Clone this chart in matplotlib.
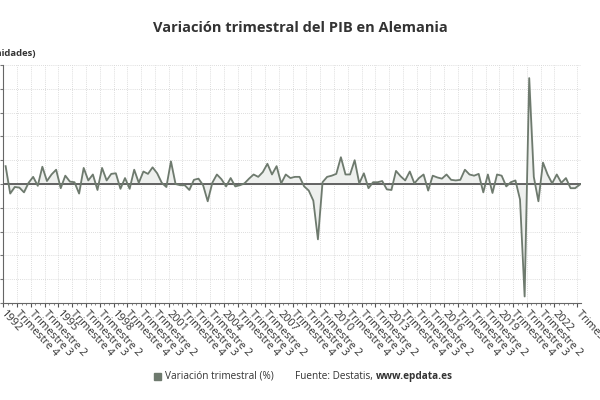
import matplotlib
matplotlib.use("Agg")
import matplotlib.pyplot as plt
import numpy as np

plt.rcParams['font.family'] = ['Open Sans', 'DejaVu Sans']

# variacion trimestral del PIB, 1992 T1 .. 2023 T2 (126 trimestres)
variacion = [
    1.5, -0.8, -0.25, -0.3, -0.7, 0.1, 0.6, -0.15, 1.45, 0.25,
    0.8, 1.2, -0.35, 0.7, 0.2, 0.15, -0.8, 1.35, 0.3, 0.8,
    -0.5, 1.35, 0.3, 0.85, 0.9, -0.4, 0.5, -0.4, 1.2, 0.1,
    1.05, 0.85, 1.4, 0.9, 0.1, -0.25, 1.9, 0.0, -0.1, -0.1,
    -0.5, 0.35, 0.45, -0.1, -1.45, 0.1, 0.8, 0.4, -0.2, 0.5,
    -0.2, -0.1, 0.05, 0.45, 0.8, 0.6, 1.0, 1.7, 0.8, 1.5,
    0.05, 0.8, 0.5, 0.6, 0.6, -0.2, -0.55, -1.4, -4.65, 0.15,
    0.6, 0.7, 0.85, 2.25, 0.8, 0.8, 2.0, 0.05, 0.9, -0.35,
    0.15, 0.15, 0.25, -0.45, -0.5, 1.1, 0.65, 0.3, 1.05, 0.05,
    0.5, 0.8, -0.55, 0.7, 0.55, 0.45, 0.8, 0.35, 0.3, 0.35,
    1.2, 0.8, 0.7, 0.85, -0.7, 0.8, -0.75, 0.8, 0.7, -0.2,
    0.15, 0.3, -1.3, -9.45, 8.9, 0.6, -1.45, 1.8, 0.8, 0.05,
    0.8, 0.1, 0.5, -0.35, -0.35, -0.05,
]

# etiquetas del eje x (una cada tres trimestres, mas la ultima)
tick_labels = [
    "1992", "Trimestre 4", "Trimestre 3", "Trimestre 2",
    "1995", "Trimestre 4", "Trimestre 3", "Trimestre 2",
    "1998", "Trimestre 4", "Trimestre 3", "Trimestre 2",
    "2001", "Trimestre 4", "Trimestre 3", "Trimestre 2",
    "2004", "Trimestre 4", "Trimestre 3", "Trimestre 2",
    "2007", "Trimestre 4", "Trimestre 3", "Trimestre 2",
    "2010", "Trimestre 4", "Trimestre 3", "Trimestre 2",
    "2013", "Trimestre 4", "Trimestre 3", "Trimestre 2",
    "2016", "Trimestre 4", "Trimestre 3", "Trimestre 2",
    "2019", "Trimestre 4", "Trimestre 3", "Trimestre 2",
    "2022", "Trimestre 2",
]
tick_idx = list(range(0, 121, 3)) + [125]

line_color = '#6e7a6e'
text_color = '#333333'

fig = plt.figure(figsize=(6, 4), dpi=100)
ax = fig.add_axes([0.0055, 0.2425, 0.963, 0.595])

x = np.arange(len(variacion))
y = np.array(variacion)
ax.fill_between(x, y, 0, color='#eef0ee', zorder=1)
ax.plot(x, y, color=line_color, lw=1.3, zorder=3)
ax.axhline(0, color='#4a4a4a', lw=1.2, zorder=2)

ax.set_xlim(-0.5, 125.3)
ax.set_ylim(-10, 10)
ax.set_yticks(np.arange(-10, 11, 2))
ax.set_xticks([i - 0.5 for i in tick_idx])
ax.set_xticklabels(tick_labels, rotation=-47, ha='left', va='center',
                   rotation_mode='anchor', fontsize=7.8, color=text_color)
ax.set_xticks(np.arange(-0.5, 125.5, 1), minor=True)
ax.tick_params(axis='x', which='major', length=3, color='#555555', pad=4)
ax.tick_params(axis='x', which='minor', length=1.5, color='#777777')
ax.tick_params(axis='y', length=2, color='#777777', labelleft=False)

ax.grid(True, which='major', color='#d2d2d2', lw=0.6, linestyle=(0, (1, 1.5)))
for s in ['top', 'right']:
    ax.spines[s].set_visible(False)
ax.spines['left'].set_color('#666666')
ax.spines['bottom'].set_color('#666666')
ax.set_axisbelow(True)

fig.text(0.5, 0.93, "Variación trimestral del PIB en Alemania", ha='center',
         va='center', fontsize=10.5, fontweight='bold', color=text_color)
fig.text(36 / 600, 1 - 54 / 400, "(Unidades)", ha='right', va='center',
         fontsize=6.8, fontweight='bold', color=text_color)

# leyenda y fuente
fig.patches.append(plt.Rectangle((154 / 600, 1 - 380 / 400), 7 / 600, 7 / 400,
                                 transform=fig.transFigure, color=line_color))
fig.text(165 / 600, 1 - 376 / 400, "Variación trimestral (%)", ha='left',
         va='center', fontsize=7.2, color=text_color)
fuente = fig.text(295 / 600, 1 - 376 / 400, "Fuente: Destatis, ", ha='left',
                  va='center', fontsize=7.2, color=text_color)
fig.canvas.draw()
bb = fuente.get_window_extent()
fig.text(bb.x1 / fig.bbox.width, 1 - 376 / 400, "www.epdata.es", ha='left',
         va='center', fontsize=7.2, fontweight='bold', color=text_color)

fig.savefig('out.png', dpi=100)
